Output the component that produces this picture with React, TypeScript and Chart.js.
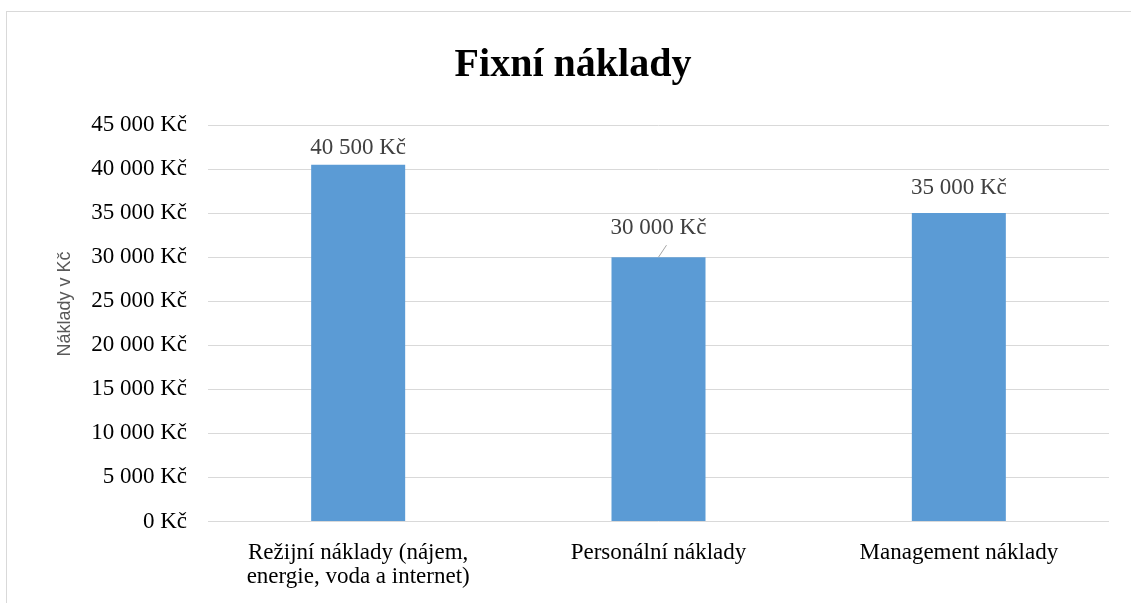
import React, { useEffect, useRef } from "react";
import { Chart, registerables } from "chart.js";

Chart.register(...registerables);

const TITLE = "Fixní náklady";
const Y_AXIS_TITLE = "Náklady v Kč";
const CATEGORIES: (string | string[])[] = [
  ["Režijní náklady (nájem,", "energie, voda a internet)"],
  "Personální náklady",
  "Management náklady",
];
const VALUES = [40500, 30000, 35000];
const Y_MIN = 0;
const Y_MAX = 45000;
const Y_STEP = 5000;

const SERIF = "'Liberation Serif', 'Times New Roman', serif";
const SANS = "'Liberation Sans', Arial, sans-serif";
const BAR_COLOR = "#5B9BD5";
const GRID_COLOR = "#d9d9d9";
// vertical gap (px) between bar top and label baseline, per label
const LABEL_GAPS = [11, 23, 19];

const fmt = (v: number) =>
  String(v).replace(/\B(?=(\d{3})+(?!\d))/g, " ") + " Kč";

const decorPlugin = {
  id: "decor",
  beforeDraw(chart: any) {
    const ctx = chart.ctx as CanvasRenderingContext2D;
    ctx.save();
    ctx.fillStyle = "#ffffff";
    ctx.fillRect(0, 0, chart.width, chart.height);
    ctx.strokeStyle = GRID_COLOR;
    ctx.lineWidth = 1;
    ctx.strokeRect(6.5, 11.5, chart.width + 20, chart.height + 20);
    ctx.restore();
  },
  afterDatasetsDraw(chart: any) {
    const ctx = chart.ctx as CanvasRenderingContext2D;
    const meta = chart.getDatasetMeta(0);
    ctx.save();
    ctx.font = `23px ${SERIF}`;
    ctx.fillStyle = "#404040";
    ctx.textAlign = "center";
    ctx.textBaseline = "alphabetic";
    meta.data.forEach((bar: any, i: number) => {
      const v = VALUES[i];
      const gap = LABEL_GAPS[i] ?? 15;
      ctx.fillText(fmt(v), bar.x, bar.y - gap);
      if (i === 1) {
        ctx.strokeStyle = "#a6a6a6";
        ctx.lineWidth = 1;
        ctx.beginPath();
        ctx.moveTo(bar.x, bar.y);
        ctx.lineTo(bar.x + 8, bar.y - 12);
        ctx.stroke();
      }
    });
    ctx.restore();
  },
  afterDraw(chart: any) {
    const ctx = chart.ctx as CanvasRenderingContext2D;
    ctx.save();
    ctx.fillStyle = "#000000";
    ctx.font = `bold 40px ${SERIF}`;
    ctx.textAlign = "center";
    ctx.textBaseline = "alphabetic";
    ctx.fillText(TITLE, 573, 76);

    ctx.font = `18px ${SANS}`;
    ctx.fillStyle = "#595959";
    ctx.translate(70, 304);
    ctx.rotate(-Math.PI / 2);
    ctx.fillText(Y_AXIS_TITLE, 0, 0);
    ctx.restore();
  },
};

export default function App() {
  const ref = useRef<HTMLCanvasElement | null>(null);

  useEffect(() => {
    if (!ref.current) return;
    const chart = new Chart(ref.current, {
      type: "bar",
      data: {
        labels: CATEGORIES,
        datasets: [
          {
            data: VALUES,
            backgroundColor: BAR_COLOR,
            borderWidth: 0,
            categoryPercentage: 1,
            barPercentage: 0.313,
          },
        ],
      },
      options: {
        responsive: false,
        animation: false,
        devicePixelRatio: 1,
        layout: { padding: { left: 0, right: 22, top: 125, bottom: 0 } },
        plugins: {
          legend: { display: false },
          title: { display: false },
          tooltip: { enabled: false },
        },
        scales: {
          x: {
            grid: { display: false, drawTicks: false },
            border: { display: false },
            ticks: {
              color: "#000000",
              font: { family: SERIF, size: 23, lineHeight: 24 / 23 },
              padding: 19.5,
              maxRotation: 0,
              autoSkip: false,
            },
            afterFit: (s: any) => {
              s.height = 81.5;
            },
          },
          y: {
            min: Y_MIN,
            max: Y_MAX,
            grid: { color: GRID_COLOR, lineWidth: 1, drawTicks: false },
            border: { display: false },
            ticks: {
              stepSize: Y_STEP,
              color: "#000000",
              font: { family: SERIF, size: 23 },
              padding: 21,
              callback: (v: any) => fmt(Number(v)),
            },
            afterFit: (s: any) => {
              s.width = 208;
            },
          },
        },
      },
      plugins: [decorPlugin],
    });
    return () => chart.destroy();
  }, []);

  return (
    <div style={{ position: "absolute", left: 0, top: 0, width: 1131, height: 603 }}>
      <canvas ref={ref} width={1131} height={603} style={{ display: "block", width: 1131, height: 603 }} />
    </div>
  );
}
